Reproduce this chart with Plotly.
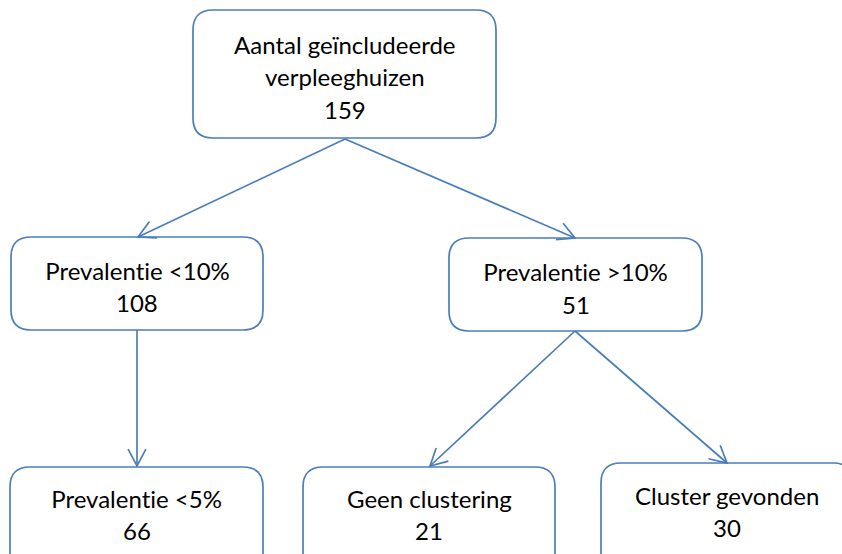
import math
import plotly.graph_objects as go

# ---- data ----
node_labels = ["Aantal geïncludeerde<br>verpleeghuizen", "Prevalentie <10%", "Prevalentie >10%",
               "Prevalentie <5%", "Geen clustering", "Cluster gevonden"]
node_counts = [159, 108, 51, 66, 21, 30]
edge_from = [0, 0, 1, 2, 2]
edge_to = [1, 2, 3, 4, 5]

# ---- layout (pixel coordinates) ----
W, H = 842, 554
box_x0 = [193, 11, 449, 10, 303, 601]
box_x1 = [496, 263, 702, 263, 555, 853]
box_y0 = [10, 237, 238, 467, 467, 463]
box_y1 = [138, 330, 331, 580, 580, 580]
text_y0 = [44, 270, 271.5, 498, 498, 495]
line_gap = 32.5
edge_start = [(345, 139), (345, 139), (137, 330), (575, 331), (575, 331)]
edge_end = [(138, 237), (575, 238), (137, 466), (430, 466), (727, 463)]

COLOR = "#4A7EBB"
LW = 1.7
R = 20

def rounded_rect(x0, y0, x1, y1, r):
    return (f"M{x0+r},{y0} L{x1-r},{y0} Q{x1},{y0} {x1},{y0+r} "
            f"L{x1},{y1-r} Q{x1},{y1} {x1-r},{y1} L{x0+r},{y1} "
            f"Q{x0},{y1} {x0},{y1-r} L{x0},{y0+r} Q{x0},{y0} {x0+r},{y0} Z")

fig = go.Figure()
fig.add_trace(go.Scatter(x=[0, W], y=[0, H], mode="markers", marker=dict(opacity=0),
                         hoverinfo="skip", showlegend=False))

shapes = []
for i in range(len(node_labels)):
    shapes.append(dict(type="path", path=rounded_rect(box_x0[i], box_y0[i], box_x1[i], box_y1[i], R),
                       xref="x", yref="y", line=dict(color=COLOR, width=LW), fillcolor="white", layer="below"))

arm = 19
ang = math.radians(28)
for k in range(len(edge_from)):
    (sx, sy), (ex, ey) = edge_start[k], edge_end[k]
    shapes.append(dict(type="line", x0=sx, y0=sy, x1=ex, y1=ey, xref="x", yref="y",
                       line=dict(color=COLOR, width=LW)))
    th = math.atan2(sy - ey, sx - ex)
    p1 = (ex + arm * math.cos(th + ang), ey + arm * math.sin(th + ang))
    p2 = (ex + arm * math.cos(th - ang), ey + arm * math.sin(th - ang))
    shapes.append(dict(type="path", path=f"M{p1[0]},{p1[1]} L{ex},{ey} L{p2[0]},{p2[1]}",
                       xref="x", yref="y", line=dict(color=COLOR, width=LW)))

annotations = []
for i in range(len(node_labels)):
    lines = node_labels[i].split("<br>") + [str(node_counts[i])]
    cx = (box_x0[i] + min(box_x1[i], 853)) / 2
    for j, t in enumerate(lines):
        annotations.append(dict(x=cx, y=text_y0[i] + j * line_gap, xref="x", yref="y", text=t,
                                showarrow=False, xanchor="center", yanchor="middle",
                                font=dict(family="Lato", size=24, color="black")))

fig.update_layout(
    width=W, height=H, margin=dict(l=0, r=0, t=0, b=0),
    paper_bgcolor="white", plot_bgcolor="white",
    xaxis=dict(range=[0, W], visible=False, fixedrange=True),
    yaxis=dict(range=[H, 0], visible=False, fixedrange=True),
    shapes=shapes, annotations=annotations, showlegend=False,
)
post = ("document.body.style.margin='0px';document.body.style.overflow='hidden';"
        "var s=document.createElement('style');"
        "s.textContent='text{font-variant-ligatures:none !important;font-feature-settings:\"liga\" 0 !important;}';"
        "document.head.appendChild(s);")
fig.write_html("out.html", post_script=post, config={"displayModeBar": False})
